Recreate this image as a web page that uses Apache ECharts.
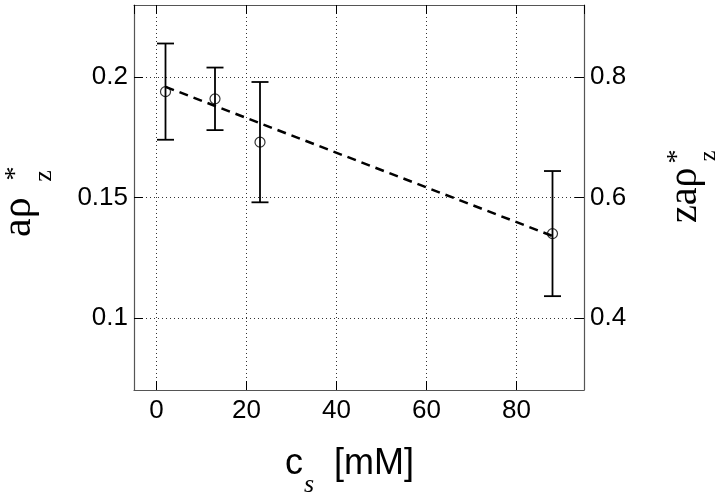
<!DOCTYPE html>
<html>
<head>
<meta charset="utf-8">
<script src="https://cdn.jsdelivr.net/npm/echarts@6/dist/echarts.min.js"></script>
<style>html,body{margin:0;padding:0;background:#fff}#c{width:720px;height:494px}</style>
</head>
<body>
<div id="c"></div>
<script>
// ---- data ----
const csValues = [2, 13, 23, 88];
const apValues = [0.194, 0.191, 0.173, 0.135];
const errLow = [0.174, 0.178, 0.148, 0.109];
const errHigh = [0.214, 0.204, 0.198, 0.161];
const fitX = [2, 88];
const fitY = [0.196, 0.134];
const xRange = [-5, 95];
const xStep = 20;
const yLeftRange = [0.07, 0.23];
const yLeftStep = 0.05;
const yRightRange = [0.28, 0.92];
const yRightStep = 0.2;

const chart = echarts.init(document.getElementById('c'), null, {renderer: 'canvas'});

const labelFont = {fontFamily: 'Liberation Sans', fontSize: 26, color: '#000'};
const tickStyle = {show: true, inside: true, length: 9, lineStyle: {color: '#000', width: 1}};
const axisLineStyle = {show: true, onZero: false, lineStyle: {color: '#555', width: 1.2}};
const gridLine = {show: true, lineStyle: {color: '#333', width: 1, type: [1, 3]}};

const errData = csValues.map((x, i) => [x, errLow[i], errHigh[i]]);
const ptData = csValues.map((x, i) => [x, apValues[i]]);
const fitData = fitX.map((x, i) => [x, fitY[i]]);

const SERIF = 'Liberation Serif';
const SANS = 'Liberation Sans';
function txt(x, y, text, size, family, align, italic) {
  return {type: 'text', x: x, y: y, style: {
    text: text, fontSize: size, fontFamily: family, fontStyle: italic ? 'italic' : 'normal',
    fill: '#000', align: align || 'left', verticalAlign: 'middle'
  }};
}

const option = {
  animation: false,
  backgroundColor: '#fff',
  grid: {left: 134, right: 136, top: 5, bottom: 104, show: false},
  xAxis: [{
    type: 'value', position: 'bottom', min: xRange[0], max: xRange[1],
    minInterval: xStep, maxInterval: xStep, splitNumber: 5,
    axisLine: axisLineStyle, axisTick: tickStyle,
    axisLabel: Object.assign({margin: 8, showMinLabel: false, showMaxLabel: false}, labelFont),
    splitLine: gridLine
  }, {
    type: 'value', position: 'top', min: xRange[0], max: xRange[1],
    minInterval: xStep, maxInterval: xStep, splitNumber: 5,
    axisLine: axisLineStyle, axisTick: tickStyle,
    axisLabel: {show: false}, splitLine: {show: false}
  }],
  yAxis: [{
    type: 'value', position: 'left', min: yLeftRange[0], max: yLeftRange[1],
    minInterval: yLeftStep, maxInterval: yLeftStep, splitNumber: 3,
    axisLine: axisLineStyle, axisTick: tickStyle,
    axisLabel: Object.assign({margin: 6, showMinLabel: false, showMaxLabel: false}, labelFont),
    splitLine: gridLine
  }, {
    type: 'value', position: 'right', min: yRightRange[0], max: yRightRange[1],
    minInterval: yRightStep, maxInterval: yRightStep, splitNumber: 3,
    axisLine: axisLineStyle, axisTick: tickStyle,
    axisLabel: Object.assign({margin: 6, showMinLabel: false, showMaxLabel: false}, labelFont),
    splitLine: {show: false}
  }],
  series: [{
    type: 'line', data: fitData, xAxisIndex: 0, yAxisIndex: 0,
    symbol: 'none', lineStyle: {color: '#000', width: 2.5, type: [9, 6]}, z: 3
  }, {
    type: 'custom', data: errData, xAxisIndex: 0, yAxisIndex: 0,
    encode: {x: 0, y: [1, 2]}, z: 4,
    renderItem: function (params, api) {
      const x = api.value(0);
      const top = api.coord([x, api.value(2)]);
      const bot = api.coord([x, api.value(1)]);
      const hw = 8.5;
      const st = {stroke: '#000', lineWidth: 1.8};
      return {type: 'group', children: [
        {type: 'line', shape: {x1: top[0], y1: top[1], x2: bot[0], y2: bot[1]}, style: st},
        {type: 'line', shape: {x1: top[0] - hw, y1: top[1], x2: top[0] + hw, y2: top[1]}, style: st},
        {type: 'line', shape: {x1: bot[0] - hw, y1: bot[1], x2: bot[0] + hw, y2: bot[1]}, style: st}
      ]};
    }
  }, {
    type: 'scatter', data: ptData, xAxisIndex: 0, yAxisIndex: 0,
    symbol: 'circle', symbolSize: 10, z: 5,
    itemStyle: {color: 'rgba(0,0,0,0)', borderColor: '#000', borderWidth: 1.2}
  }],
  graphic: [
    // left y label: a rho * z (rotated)
    {type: 'group', x: 32, y: 237, rotation: Math.PI / 2, children: [
      txt(0, -12.6, 'aρ', 42, SERIF),
      txt(63.5, -16.5, '*', 28, SERIF, 'center'),
      txt(61, 12, 'z', 26, SERIF, 'center')
    ]},
    // right y label: z a rho * z
    {type: 'group', x: 697, y: 223, rotation: Math.PI / 2, children: [
      txt(0, -12, 'zaρ', 40, SERIF),
      txt(66.5, -19, '*', 28, SERIF, 'center'),
      txt(67, 12, 'z', 24, SERIF, 'center')
    ]},
    // x label: c_s [mM]
    txt(285, 464, 'c', 36, SANS),
    txt(304, 485, 's', 26, SERIF, 'left', true),
    txt(334, 464, '[mM]', 36, SANS)
  ]
};
chart.setOption(option);
</script>
</body>
</html>
